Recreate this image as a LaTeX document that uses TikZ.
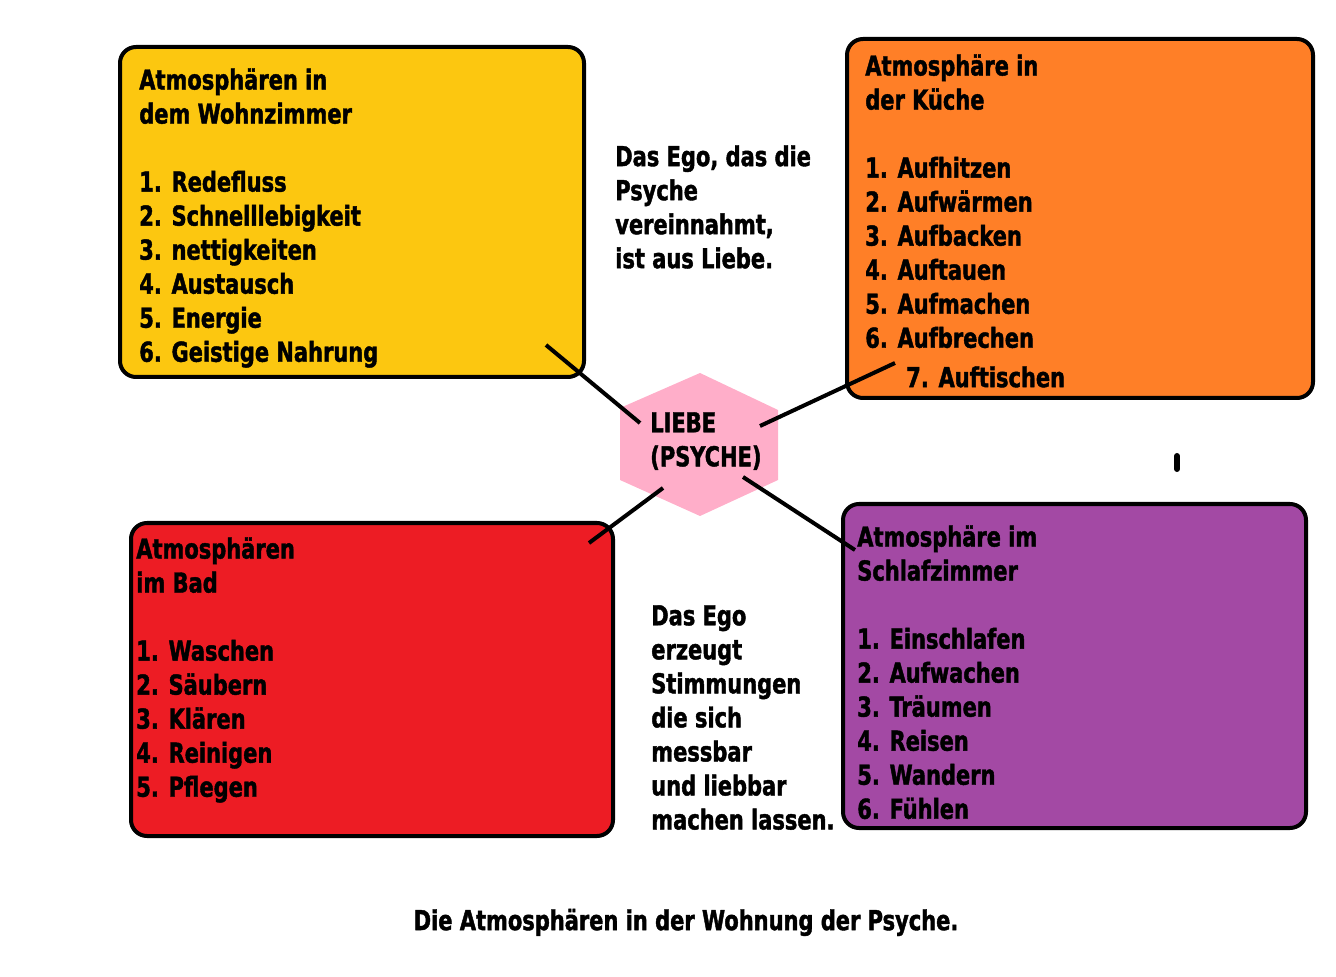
\documentclass[tikz,border=0pt]{standalone}
\usepackage{fontspec}
\usepackage{xcolor}
\usetikzlibrary{positioning}
\newfontfamily\impactfont{DejaVu Sans Condensed Bold}[FakeStretch=0.85, FakeBold=1.5]
\definecolor{roomyellow}{RGB}{252,199,16}
\definecolor{roomorange}{RGB}{255,127,39}
\definecolor{roomred}{RGB}{237,28,36}
\definecolor{roompurple}{RGB}{163,73,164}
\definecolor{psychepink}{RGB}{255,174,201}

\begin{document}
\begin{tikzpicture}[x=0.025cm, y=-0.025cm,
  roombox/.style={draw=black, line width=0.1cm, rounded corners=0.4cm},
  roomtext/.style={font=\impactfont\fontsize{19.5}{24.2}\selectfont, align=left, inner sep=0pt, anchor=north west, execute at begin node=\strut},
  link/.style={line width=0.1cm}]
  \useasboundingbox (0,0) rectangle (1336,977);

  % Draw room boxes
  \draw[roombox, fill=roomyellow] (120,47) rectangle (584,377);
  \draw[roombox, fill=roomorange] (847,39) rectangle (1313,398);
  \draw[roombox, fill=roomred] (131,523) rectangle (613,836);
  \draw[roombox, fill=roompurple] (843,504) rectangle (1306,828);

  % Draw psyche hexagon
  \fill[psychepink] (700,373) -- (778,410) -- (778,480) -- (700,516) -- (620,480) -- (620,408) -- cycle;
  \node[roomtext] (psyche) at (650,412) {LIEBE\\(PSYCHE)};

  % Connector ends
  \coordinate (wohn) at (546,345);
  \coordinate (kueche) at (895,363);
  \coordinate (bad) at (589,543);
  \coordinate (schlaf) at (855,550);
  \coordinate (hexnw) at (640,423);
  \coordinate (hexne) at (760,426);
  \coordinate (hexsw) at (663,488);
  \coordinate (hexse) at (743,477);

  % Draw links
  \draw[link] (wohn) -- (hexnw);
  \draw[link] (kueche) -- (hexne);
  \draw[link] (hexsw) -- (bad);
  \draw[link] (hexse) -- (schlaf);

  % Room lists
  \node[roomtext] (wohntext) at (139,68) {Atmosphären in\\dem Wohnzimmer\\[24.2pt]1. Redefluss\\2. Schnelllebigkeit\\3. nettigkeiten\\4. Austausch\\5. Energie\\6. Geistige Nahrung};
  \node[roomtext] (kuechetext) at (865,54) {Atmosphäre in\\der Küche\\[24.2pt]1. Aufhitzen\\2. Aufwärmen\\3. Aufbacken\\4. Auftauen\\5. Aufmachen\\6. Aufbrechen};
  \node[roomtext] (kuechelast) at (906,363) {7. Auftischen};
  \node[roomtext] (badtext) at (136,537) {Atmosphären\\im Bad\\[24.2pt]1. Waschen\\2. Säubern\\3. Klären\\4. Reinigen\\5. Pflegen};
  \node[roomtext] (schlaftext) at (857,525) {Atmosphäre im\\Schlafzimmer\\[24.2pt]1. Einschlafen\\2. Aufwachen\\3. Träumen\\4. Reisen\\5. Wandern\\6. Fühlen};

  % Ego notes
  \node[roomtext] (egotop) at (615,145) {Das Ego, das die\\Psyche\\vereinnahmt,\\ist aus Liebe.};
  \node[roomtext] (egobottom) at (651,605) {Das Ego\\erzeugt\\Stimmungen\\die sich\\messbar\\und liebbar\\machen lassen.};

  % Stray mark
  \draw[line width=0.15cm, line cap=round] (1177,456) -- (1177,469);

  % Caption
  \node[roomtext, anchor=north] (caption) at (686,906) {Die Atmosphären in der Wohnung der Psyche.};
\end{tikzpicture}
\end{document}
